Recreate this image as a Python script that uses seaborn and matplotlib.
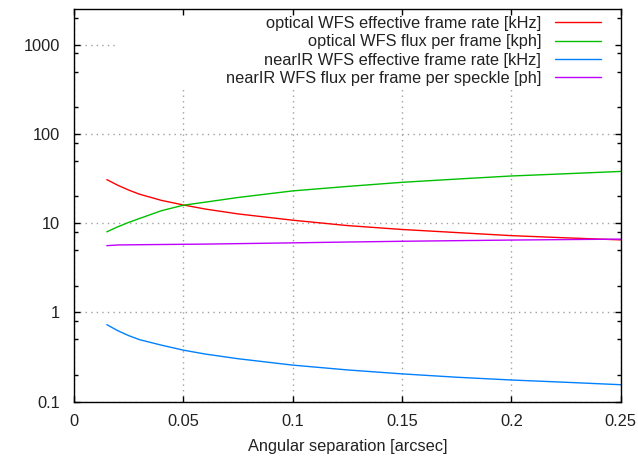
import numpy as np
import pandas as pd
import matplotlib
matplotlib.use("Agg")
import matplotlib.pyplot as plt
from matplotlib import ticker
from matplotlib.patches import Rectangle
import seaborn as sns

# values (log y axis)
sep = [0.015, 0.02, 0.025, 0.03, 0.04, 0.05, 0.06, 0.075, 0.1, 0.125, 0.15, 0.175, 0.2, 0.225, 0.25]
opt_rate = [30.8, 26.6, 23.5, 21.1, 18.0, 16.0, 14.4, 12.7, 10.8, 9.4, 8.5, 7.85, 7.25, 6.85, 6.5]
opt_flux = [8.0, 9.1, 10.2, 11.3, 13.8, 15.9, 17.2, 19.4, 23.0, 25.8, 28.7, 31.2, 33.8, 35.8, 38.0]
nir_rate = [0.73, 0.625, 0.55, 0.495, 0.43, 0.378, 0.342, 0.303, 0.257, 0.227, 0.205, 0.188, 0.175, 0.165, 0.155]
nir_flux = [5.6, 5.7, 5.72, 5.74, 5.77, 5.8, 5.83, 5.9, 6.02, 6.15, 6.27, 6.37, 6.47, 6.55, 6.63]

labels = ["optical WFS effective frame rate [kHz]",
          "optical WFS flux per frame [kph]",
          "nearIR WFS effective frame rate [kHz]",
          "nearIR WFS flux per frame per speckle [ph]"]
colors = ["#ff0000", "#00c000", "#0080ff", "#c000ff"]

xticks = [0, 0.05, 0.1, 0.15, 0.2, 0.25]
xticklabels = ["0", "0.05", "0.1", "0.15", "0.2", "0.25"]
yticks = [0.1, 1, 10, 100, 1000]
yticklabels = ["0.1", "1", "10", "100", "1000"]

df = pd.concat([pd.DataFrame({"sep": sep, "value": vals, "series": lab})
                for vals, lab in zip([opt_rate, opt_flux, nir_rate, nir_flux], labels)])

sns.set_theme(style="white")
plt.rcParams["font.family"] = ["Liberation Sans", "DejaVu Sans"]
FS = 11.8

fig = plt.figure(figsize=(6.38, 4.57), dpi=100)
pos = [0.116, 0.121, 0.857, 0.859]
ax = fig.add_axes(pos)

sns.lineplot(data=df, x="sep", y="value", hue="series", hue_order=labels,
             palette=dict(zip(labels, colors)), linewidth=1.0, ax=ax, legend=False)

ax.set_yscale("log")
ax.set_xlim(0, 0.25)
ax.set_ylim(0.1, 2500)
ax.set_xticks(xticks, xticklabels)
ax.set_yticks(yticks, yticklabels)
ax.yaxis.set_minor_locator(ticker.LogLocator(base=10, subs=[2, 5, 8]))
ax.yaxis.set_minor_formatter(ticker.NullFormatter())
ax.grid(True, which="major", color="#a0a0a0", linestyle=(0, (1, 3)), linewidth=1.0)
ax.set_axisbelow(True)
ax.tick_params(which="both", length=0, labelsize=FS, colors="#222222")
ax.tick_params(axis="y", pad=10)
ax.tick_params(axis="x", pad=9)
ax.set_xlabel("Angular separation [arcsec]", fontsize=FS, labelpad=7, color="#222222")
ax.set_ylabel("")

# opaque key area like gnuplot
ax.add_patch(Rectangle((0.075, 0.801), 0.925, 0.199, transform=ax.transAxes,
                       facecolor="white", edgecolor="none", zorder=1))

# overlay axes for ticks and border (drawn above the key box)
ax2 = fig.add_axes(pos, sharex=ax, sharey=ax)
ax2.patch.set_visible(False)
ax2.grid(False)
ax2.tick_params(which="both", direction="in", top=True, right=True, bottom=True, left=True,
                labelbottom=False, labelleft=False, color="black", width=1.0)
ax2.tick_params(which="major", length=4.5)
ax2.tick_params(which="minor", length=3)
for s in ax2.spines.values():
    s.set_color("black")
    s.set_linewidth(1.0)
for s in ax.spines.values():
    s.set_visible(False)

leg = ax2.legend(ax.get_lines()[:4], labels, loc="upper right", bbox_to_anchor=(0.9636, 0.983),
                 frameon=False, markerfirst=False, fontsize=FS, handlelength=2.8,
                 handletextpad=0.85, labelspacing=0.21, borderaxespad=0, borderpad=0)
for t in leg.get_texts():
    t.set_color("#222222")

fig.savefig("out.png", dpi=100)
